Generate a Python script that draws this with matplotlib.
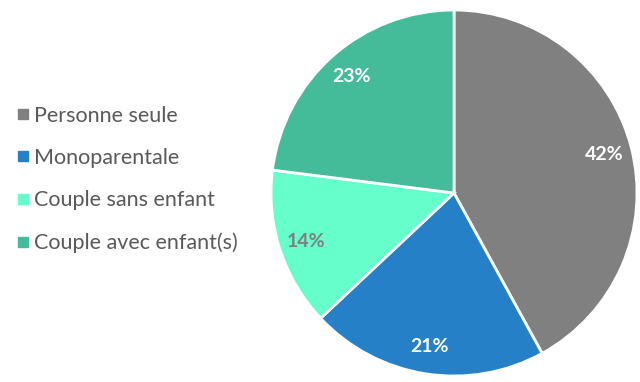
import matplotlib
matplotlib.use("Agg")
import matplotlib.pyplot as plt
from matplotlib.lines import Line2D

plt.rcParams['font.family'] = ['Lato', 'DejaVu Sans']

categories = ["Personne seule", "Monoparentale", "Couple sans enfant", "Couple avec enfant(s)"]
shares = [42, 21, 14, 23]
colors = ["#808080", "#2680C8", "#66FFCC", "#44BB99"]
label_colors = ["white", "white", "#7f7f7f", "white"]

W, H = 640, 382
fig = plt.figure(figsize=(W / 100, H / 100), dpi=100)

cx, cy, r = 454, 193, 183
ax = fig.add_axes([(cx - r) / W, (H - cy - r) / H, 2 * r / W, 2 * r / H])
wedges, texts, autotexts = ax.pie(
    shares, colors=colors, startangle=90, counterclock=False,
    autopct=lambda p: f"{p:.0f}%", pctdistance=0.85,
    wedgeprops=dict(edgecolor="white", linewidth=2),
    textprops=dict(fontsize=14, fontweight="bold"),
)
for t, c in zip(autotexts, label_colors):
    t.set_color(c)
ax.set_xlim(-1.0, 1.0)
ax.set_ylim(-1.0, 1.0)
ax.set_aspect("auto")
ax.axis("off")

handles = [Line2D([], [], marker="s", linestyle="none", markersize=7,
                  markerfacecolor=c, markeredgecolor=c) for c in colors]
leg = fig.legend(handles, categories, loc="upper left",
                 bbox_to_anchor=(5 / W, 1 - 97 / H), frameon=False,
                 fontsize=15.5, labelspacing=1.04, handletextpad=0.05,
                 handlelength=0.9, borderaxespad=0)
for t in leg.get_texts():
    t.set_color("#595959")

fig.savefig("out.png", dpi=100)
